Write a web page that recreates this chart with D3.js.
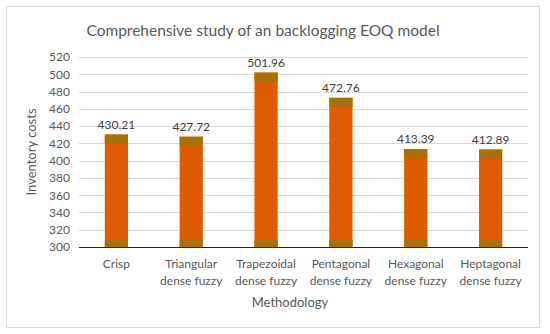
<!DOCTYPE html>
<html>
<head>
<meta charset="utf-8">
<script src="https://cdn.jsdelivr.net/npm/d3@7"></script>
<style>
  body { margin: 0; background: #fff; }
  text { font-family: Lato, "Open Sans", sans-serif; }
</style>
</head>
<body>
<div id="chart"></div>
<script>
const categories = [
  ['Crisp'],
  ['Triangular', 'dense fuzzy'],
  ['Trapezoidal', 'dense fuzzy'],
  ['Pentagonal', 'dense fuzzy'],
  ['Hexagonal', 'dense fuzzy'],
  ['Heptagonal', 'dense fuzzy']
];
const costs = [430.21, 427.72, 501.96, 472.76, 413.39, 412.89];
const yTicks = [300, 320, 340, 360, 380, 400, 420, 440, 460, 480, 500, 520];

const width = 550, height = 334;
const margin = {top: 57, right: 22, bottom: 87, left: 79};

const svg = d3.select('#chart').append('svg')
  .attr('width', width)
  .attr('height', height);

// chart frame
svg.append('rect')
  .attr('x', 6.5).attr('y', 6.5)
  .attr('width', 533).attr('height', 321)
  .attr('fill', '#fff')
  .attr('stroke', '#d9d9d9');

const x = d3.scaleBand()
  .domain(categories.map((d, i) => i))
  .range([margin.left, width - margin.right])
  .paddingInner(0.69)
  .paddingOuter(0.345);

const y = d3.scaleLinear()
  .domain([300, 520])
  .range([height - margin.bottom, margin.top]);

// gridlines
svg.append('g')
  .selectAll('line')
  .data(yTicks.slice(1))
  .join('line')
  .attr('x1', margin.left)
  .attr('x2', width - margin.right)
  .attr('y1', d => Math.round(y(d)) + 0.5)
  .attr('y2', d => Math.round(y(d)) + 0.5)
  .attr('stroke', '#d9d9d9');

// y axis labels
const yAxis = svg.append('g')
  .attr('transform', `translate(${margin.left},0)`)
  .call(d3.axisLeft(y).tickValues(yTicks).tickSize(0).tickPadding(9));
yAxis.select('.domain').remove();
yAxis.selectAll('text')
  .attr('fill', '#595959')
  .style('font-size', '12px');

// bars
const bars = svg.append('g')
  .selectAll('g')
  .data(costs)
  .join('g');

bars.append('rect')
  .attr('x', (d, i) => x(i))
  .attr('y', d => y(d))
  .attr('width', x.bandwidth())
  .attr('height', d => y(300) - y(d))
  .attr('fill', '#e05a00');

// darker top band
bars.append('rect')
  .attr('x', (d, i) => x(i))
  .attr('y', d => y(d))
  .attr('width', x.bandwidth())
  .attr('height', 9)
  .attr('fill', '#a8700a');

// darker bottom band
bars.append('rect')
  .attr('x', (d, i) => x(i))
  .attr('y', y(300) - 7)
  .attr('width', x.bandwidth())
  .attr('height', 7)
  .attr('fill', '#a8700a');

// value labels
bars.append('text')
  .attr('x', (d, i) => x(i) + x.bandwidth() / 2)
  .attr('y', d => y(d) - 6)
  .attr('text-anchor', 'middle')
  .attr('fill', '#404040')
  .style('font-size', '12px')
  .text(d => d.toFixed(2));

// baseline
svg.append('line')
  .attr('x1', margin.left)
  .attr('x2', width - margin.right)
  .attr('y1', Math.round(y(300)) + 0.5)
  .attr('y2', Math.round(y(300)) + 0.5)
  .attr('stroke', '#262626')
  .attr('stroke-width', 1.2);

// category labels
const catLabels = svg.append('g')
  .selectAll('text')
  .data(categories)
  .join('text')
  .attr('x', (d, i) => x(i) + x.bandwidth() / 2)
  .attr('y', y(300) + 21)
  .attr('text-anchor', 'middle')
  .attr('fill', '#595959')
  .style('font-size', '12px');
catLabels.selectAll('tspan')
  .data(d => d)
  .join('tspan')
  .attr('x', function () { return d3.select(this.parentNode).attr('x'); })
  .attr('dy', (d, i) => i === 0 ? 0 : 17)
  .text(d => d);

// title
svg.append('text')
  .attr('x', 263)
  .attr('y', 36)
  .attr('text-anchor', 'middle')
  .attr('fill', '#595959')
  .style('font-size', '15.5px')
  .text('Comprehensive study of an backlogging EOQ model');

// axis titles
svg.append('text')
  .attr('transform', `translate(36,${(y(300) + y(520)) / 2}) rotate(-90)`)
  .attr('text-anchor', 'middle')
  .attr('fill', '#595959')
  .style('font-size', '13px')
  .text('Inventory costs');

svg.append('text')
  .attr('x', 290)
  .attr('y', 307)
  .attr('text-anchor', 'middle')
  .attr('fill', '#595959')
  .style('font-size', '13px')
  .text('Methodology');
</script>
</body>
</html>
